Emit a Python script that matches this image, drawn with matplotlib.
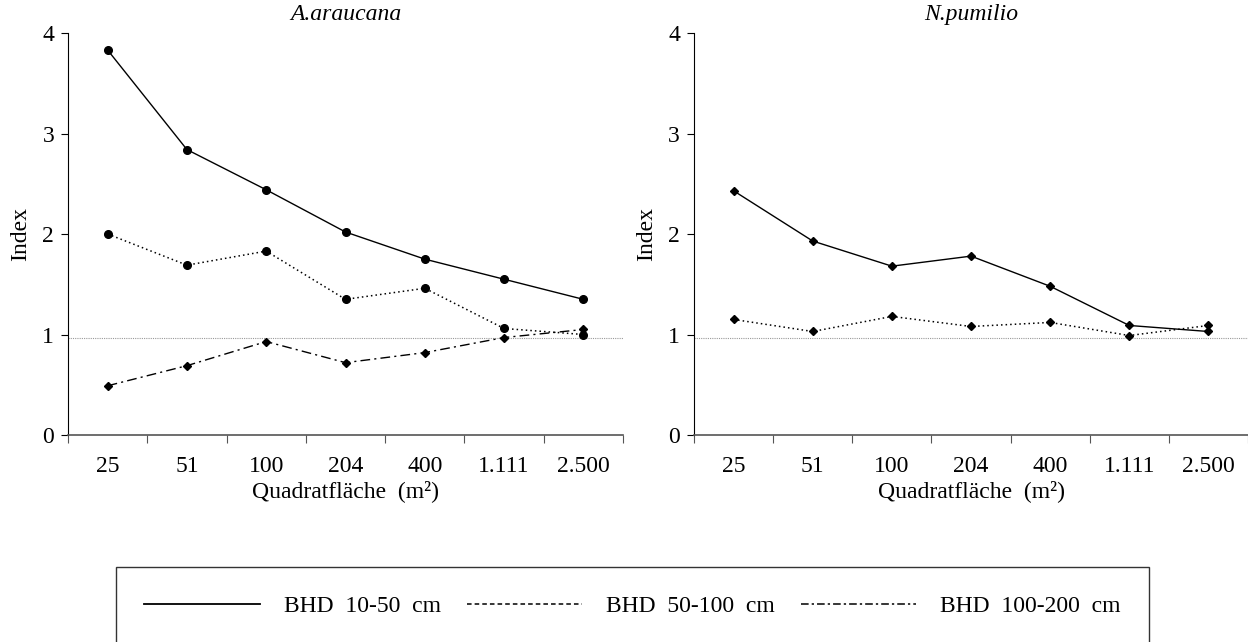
import matplotlib.pyplot as plt
from matplotlib.lines import Line2D

plt.rcParams['font.family'] = ['Liberation Serif', 'DejaVu Serif']
plt.rcParams['font.size'] = 17

# Quadrat sizes (m2) and index values per diameter class
flaechen = ['25', '51', '100', '204', '400', '1.111', '2.500']

arau_10_50 = [3.83, 2.84, 2.44, 2.02, 1.75, 1.55, 1.35]
arau_50_100 = [2.00, 1.69, 1.83, 1.35, 1.46, 1.06, 1.00]
arau_100_200 = [0.49, 0.69, 0.93, 0.72, 0.82, 0.97, 1.05]

pum_10_50 = [2.43, 1.93, 1.68, 1.78, 1.48, 1.09, 1.03]
pum_50_100 = [1.15, 1.03, 1.18, 1.08, 1.12, 0.99, 1.09]

ref_level = 0.97

fig = plt.figure(figsize=(12.48, 6.42), dpi=100)
ax1 = fig.add_axes([0.0545, 0.3224, 0.4447, 0.6262])
ax2 = fig.add_axes([0.5561, 0.3224, 0.4439, 0.6262])

x = list(range(len(flaechen)))
dotted = (0, (1, 2))
dashdot = (0, (7, 3, 1.5, 3))

ax1.plot(x, arau_10_50, color='black', lw=1, marker='o', ms=5.5)
ax1.plot(x, arau_50_100, color='black', lw=1.1, ls=dotted, marker='o', ms=5.5)
ax1.plot(x, arau_100_200, color='black', lw=1, ls=dashdot, marker='D', ms=4)

ax2.plot(x, pum_10_50, color='black', lw=1, marker='D', ms=4)
ax2.plot(x, pum_50_100, color='black', lw=1.1, ls=dotted, marker='D', ms=4)

for ax, title in [(ax1, 'A.araucana'), (ax2, 'N.pumilio')]:
    ax.axhline(ref_level, color='#999999', lw=0.8, ls=(0, (1, 1)), zorder=0)
    ax.set_xlim(-0.5, len(flaechen) - 0.5)
    ax.set_ylim(0, 4)
    ax.set_yticks([0, 1, 2, 3, 4])
    ax.set_xticks([i - 0.5 for i in range(len(flaechen) + 1)])
    ax.set_xticklabels([])
    ax.set_xticks(x, minor=True)
    ax.set_xticklabels(flaechen, minor=True)
    ax.tick_params(axis='x', which='major', direction='out', length=6, color='#555555')
    ax.tick_params(axis='x', which='minor', length=0, pad=15)
    ax.tick_params(axis='y', direction='out', length=5, pad=5)
    ax.spines['top'].set_visible(False)
    ax.spines['right'].set_visible(False)
    ax.spines['bottom'].set_color('#555555')
    ax.spines['bottom'].set_linewidth(1.2)
    ax.set_ylabel('Index', labelpad=8)
    ax.set_xlabel('Quadratfläche  (m²)', labelpad=2)
    ax.set_title(title, style='italic', fontsize=17, pad=9)

handles = [
    Line2D([], [], color='black', lw=1.3),
    Line2D([], [], color='black', lw=1.1, ls=(0, (3, 2))),
    Line2D([], [], color='black', lw=1.1, ls=(0, (5, 2, 1.5, 2))),
]
labels = ['BHD  10-50  cm', 'BHD  50-100  cm', 'BHD  100-200  cm']
leg = fig.legend(handles, labels, loc='center', bbox_to_anchor=(0.5068, 0.056),
                 ncol=3, handlelength=4.9, handletextpad=1.0, columnspacing=1.1,
                 borderpad=1.2, fancybox=False, frameon=True)
leg.get_frame().set_edgecolor('black')
leg.get_frame().set_linewidth(1)

fig.savefig('out.png', dpi=100)
